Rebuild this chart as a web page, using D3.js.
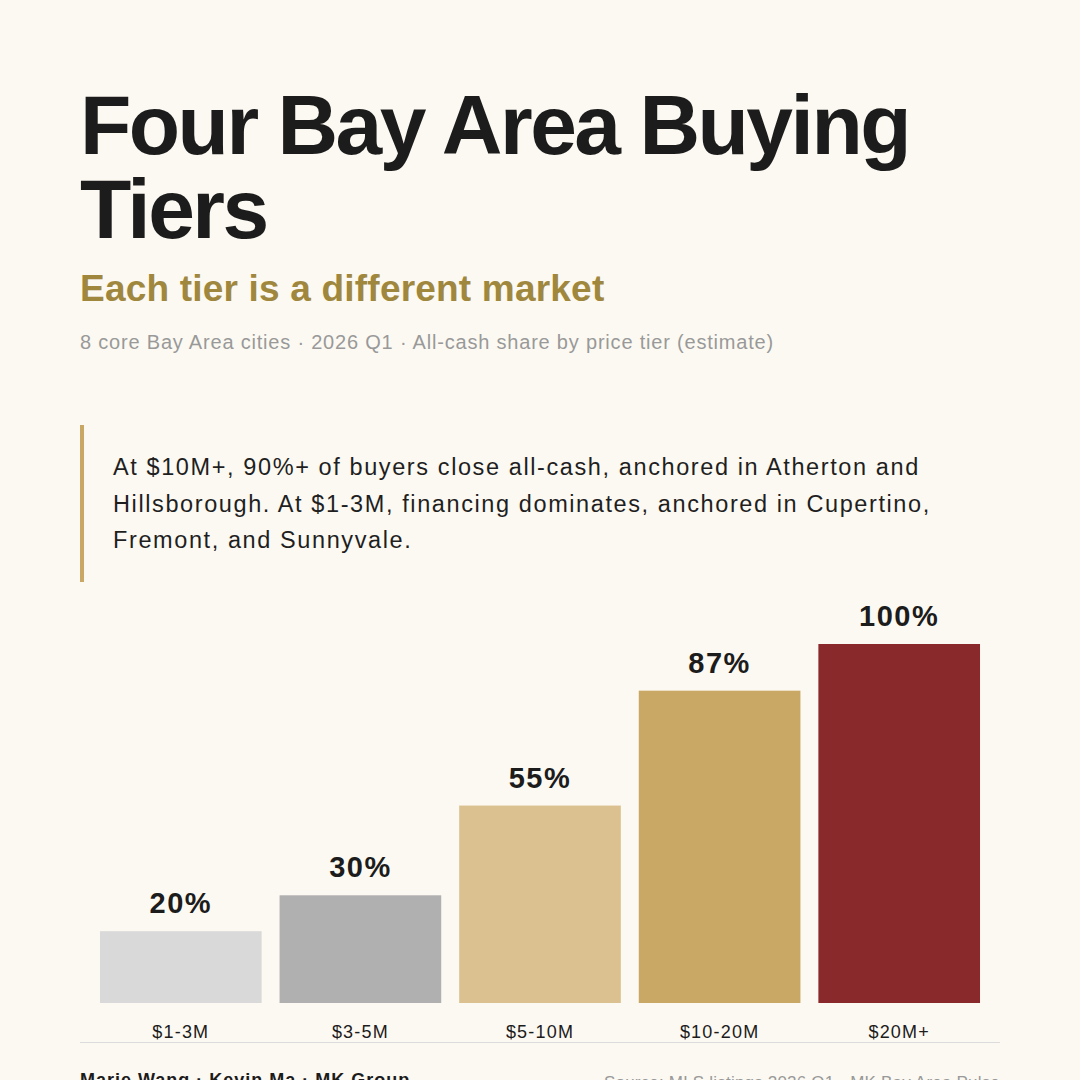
<!DOCTYPE html>
<html>
<head>
<meta charset="utf-8">
<script src="https://cdn.jsdelivr.net/npm/d3@7"></script>
<style>
  html, body { margin: 0; padding: 0; background: #fcf9f2; }
  svg { display: block; font-family: "Liberation Sans", Arial, Helvetica, sans-serif; }
</style>
</head>
<body>
<div id="chart"></div>
<script>
(function(){
  // data
  const tiers = ['$1-3M', '$3-5M', '$5-10M', '$10-20M', '$20M+'];
  const cashShare = [20, 30, 55, 87, 100];
  const barColors = ['#d9d9d9', '#b0b0b0', '#dbc190', '#c9a765', '#8a292c'];

  const titleLines = ['Four Bay Area Buying', 'Tiers'];
  const subtitle = 'Each tier is a different market';
  const meta = '8 core Bay Area cities \u00b7 2026 Q1 \u00b7 All-cash share by price tier (estimate)';
  const noteLines = [
    'At $10M+, 90%+ of buyers close all-cash, anchored in Atherton and',
    'Hillsborough. At $1-3M, financing dominates, anchored in Cupertino,',
    'Fremont, and Sunnyvale.'
  ];
  const credit = 'Marie Wang \u00b7 Kevin Ma \u00b7 MK Group';
  const source = 'Source: MLS listings 2026 Q1 \u00b7 MK Bay Area Pulse';

  const width = 1080;
  const height = 1080;

  const svg = d3.select('#chart')
    .append('svg')
    .attr('width', width)
    .attr('height', height);

  svg.append('rect')
    .attr('width', width)
    .attr('height', height)
    .attr('fill', '#fcf9f2');

  /**
   * Header
   */
  svg.append('text')
    .attr('x', 80)
    .attr('y', 154)
    .attr('fill', '#1c1c1c')
    .style('font-size', '84px')
    .style('font-weight', 'bold')
    .style('letter-spacing', '-2.5px')
    .selectAll('tspan')
    .data(titleLines)
    .enter().append('tspan')
    .attr('x', 80)
    .attr('dy', (d, i) => i === 0 ? 0 : 84)
    .text(d => d);

  svg.append('text')
    .attr('x', 80)
    .attr('y', 301)
    .attr('fill', '#a0873e')
    .style('font-size', '37px')
    .style('font-weight', 'bold')
    .style('letter-spacing', '0.2px')
    .text(subtitle);

  svg.append('text')
    .attr('x', 80)
    .attr('y', 349)
    .attr('fill', '#999999')
    .style('font-size', '20px')
    .style('letter-spacing', '0.8px')
    .text(meta);

  // callout
  svg.append('rect')
    .attr('x', 80)
    .attr('y', 425)
    .attr('width', 4)
    .attr('height', 157)
    .attr('fill', '#c9a765');

  svg.append('text')
    .attr('y', 475)
    .attr('fill', '#1f1f1f')
    .style('font-size', '23.5px')
    .style('letter-spacing', '1.6px')
    .selectAll('tspan')
    .data(noteLines)
    .enter().append('tspan')
    .attr('x', 113)
    .attr('dy', (d, i) => i === 0 ? 0 : 36.5)
    .text(d => d);

  /**
   * Bar chart
   */
  const x = d3.scaleBand()
    .domain(tiers)
    .range([91, 989])
    .paddingInner(0.1)
    .paddingOuter(0.05);

  const y = d3.scaleLinear()
    .domain([0, 100])
    .range([1003, 644]);

  const data = tiers.map((t, i) => ({ tier: t, value: cashShare[i], color: barColors[i] }));

  const g = svg.selectAll('.bar')
    .data(data)
    .enter().append('g')
    .attr('class', 'bar');

  g.append('rect')
    .attr('x', d => x(d.tier))
    .attr('y', d => y(d.value))
    .attr('width', x.bandwidth())
    .attr('height', d => y(0) - y(d.value))
    .attr('fill', d => d.color);

  g.append('text')
    .attr('x', d => x(d.tier) + x.bandwidth() / 2)
    .attr('y', d => y(d.value) - 18)
    .attr('text-anchor', 'middle')
    .attr('fill', '#1c1c1c')
    .style('font-size', '29px')
    .style('font-weight', 'bold')
    .style('letter-spacing', '1.5px')
    .text(d => d.value + '%');

  const axis = d3.axisBottom(x).tickSize(0).tickPadding(0);
  const axisG = svg.append('g')
    .attr('transform', 'translate(0,' + 1003 + ')')
    .call(axis);
  axisG.select('.domain').remove();
  axisG.selectAll('text')
    .attr('y', 35)
    .attr('dy', 0)
    .attr('fill', '#1c1c1c')
    .style('font-size', '18px')
    .style('letter-spacing', '1.2px')
    .style('font-family', '"Liberation Sans", Arial, sans-serif');

  svg.append('line')
    .attr('x1', 80)
    .attr('x2', 1000)
    .attr('y1', 1042.5)
    .attr('y2', 1042.5)
    .attr('stroke', '#dcdcdc')
    .attr('stroke-width', 1);

  /**
   * Footer
   */
  svg.append('text')
    .attr('x', 80)
    .attr('y', 1086)
    .attr('fill', '#1c1c1c')
    .style('font-size', '18px')
    .style('font-weight', 'bold')
    .style('letter-spacing', '1px')
    .text(credit);

  svg.append('text')
    .attr('x', 1000)
    .attr('y', 1088)
    .attr('text-anchor', 'end')
    .attr('fill', '#999999')
    .style('font-size', '17px')
    .style('letter-spacing', '0.2px')
    .text(source);
})();
</script>
</body>
</html>
